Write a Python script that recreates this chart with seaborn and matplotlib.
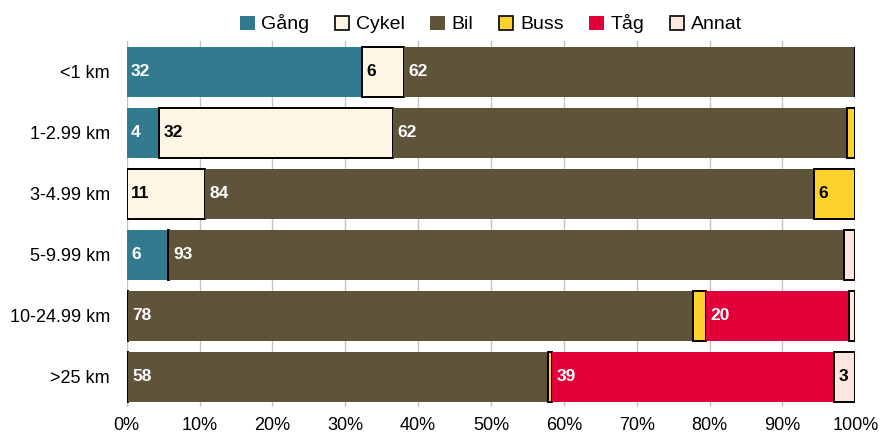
import numpy as np
import pandas as pd
import matplotlib
matplotlib.use("Agg")
import matplotlib.pyplot as plt
import seaborn as sns
from matplotlib.patches import Patch
from matplotlib.ticker import PercentFormatter

# Data (shares in %)
distances = ["<1 km", "1-2.99 km", "3-4.99 km", "5-9.99 km", "10-24.99 km", ">25 km"]
gang = [32.3, 4.4, 0.0, 5.7, 0.0, 0.0]
cykel = [5.7, 32.1, 10.8, 0.1, 0.15, 0.15]
bil = [61.9, 62.3, 83.5, 92.6, 77.6, 57.6]
buss = [0.0, 1.2, 5.7, 0.0, 1.8, 0.6]
tag = [0.0, 0.0, 0.0, 0.0, 19.6, 38.7]
annat = [0.1, 0.0, 0.0, 1.6, 0.85, 2.95]

modes = ["Gång", "Cykel", "Bil", "Buss", "Tåg", "Annat"]
colors = ["#327b8e", "#fdf6e4", "#5f533a", "#fdd22c", "#e3003a", "#fde6dc"]
text_colors = ["white", "black", "white", "black", "white", "black"]
outlined = [False, True, False, True, False, True]

df = pd.DataFrame({"Gång": gang, "Cykel": cykel, "Bil": bil,
                   "Buss": buss, "Tåg": tag, "Annat": annat}, index=distances)

sns.set_style("white")
plt.rcParams['font.family'] = ['Liberation Sans', 'DejaVu Sans']
plt.rcParams['text.color'] = 'black'
plt.rcParams['xtick.color'] = 'black'
plt.rcParams['ytick.color'] = 'black'

fig, ax = plt.subplots(figsize=(8.8, 4.34), dpi=100)
fig.subplots_adjust(left=0.144, right=0.972, top=0.905, bottom=0.062)

y = np.arange(len(distances))
left = np.zeros(len(distances))
for mode, col, tcol, edge in zip(modes, colors, text_colors, outlined):
    vals = df[mode].values
    ax.barh(y, vals, left=left, height=0.82, color=col,
            edgecolor="black" if edge else col, linewidth=1.4 if edge else 0,
            zorder=3)
    for yi, (l, v) in enumerate(zip(left, vals)):
        if v >= 2.5:
            ax.text(l + 0.6, yi, f"{round(v):.0f}", color=tcol, fontsize=12.5,
                    fontweight="bold", va="center", ha="left", zorder=4)
    left = left + vals

ax.set_xlim(0, 100)
ax.set_ylim(len(distances) - 0.5, -0.5)
ax.set_yticks(y)
ax.set_yticklabels(distances, fontsize=13)
ax.set_xticks(np.arange(0, 101, 10))
ax.xaxis.set_major_formatter(PercentFormatter(decimals=0))
ax.tick_params(axis="x", labelsize=13, length=0, pad=7)
ax.tick_params(axis="y", length=0, pad=12)
ax.grid(axis="x", color="#c4c4c4", linewidth=1, zorder=0)
ax.grid(axis="y", visible=False)
sns.despine(ax=ax, left=True, bottom=True)

handles = [Patch(facecolor=c, edgecolor="black" if e else c, linewidth=1.2 if e else 0)
           for c, e in zip(colors, outlined)]
ax.legend(handles, modes, loc="lower center", bbox_to_anchor=(0.5, 1.0),
          ncol=6, frameon=False, fontsize=14, handlelength=0.75, handleheight=0.75,
          handletextpad=0.35, columnspacing=1.3, borderaxespad=0)

plt.savefig("out.png", dpi=100)
